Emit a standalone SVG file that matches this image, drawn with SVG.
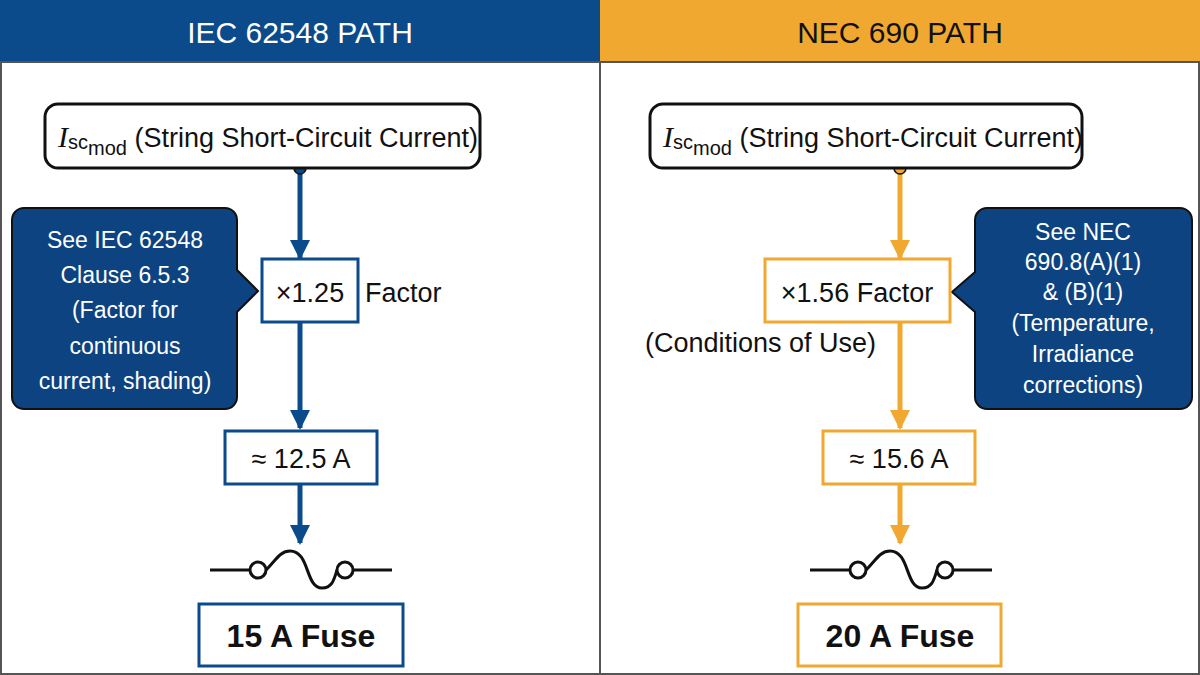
<svg xmlns="http://www.w3.org/2000/svg" width="1200" height="675" viewBox="0 0 1200 675">
<defs>
<style>
text{font-family:"Liberation Sans",Arial,sans-serif;fill:#111}
.h{font-size:30px;fill:#111}
.t{font-size:27px}
.c{font-size:23px;fill:#fff;text-anchor:middle}
.b{fill:#fff;stroke-width:3}
.bl{stroke:#0b4a8b}.or{stroke:#f0a830}
.f{fill:none;stroke:#111;stroke-width:3}
</style>
<marker id="ab" viewBox="0 0 10 10" refX="9" refY="5" markerWidth="4" markerHeight="4" markerUnits="strokeWidth" orient="auto"><path d="M0,0L10,5L0,10z" fill="#0b4a8b"/></marker>
<marker id="ao" viewBox="0 0 10 10" refX="9" refY="5" markerWidth="4" markerHeight="4" markerUnits="strokeWidth" orient="auto"><path d="M0,0L10,5L0,10z" fill="#f0a830"/></marker>
</defs>
<rect width="1200" height="675" fill="#fff"/>
<rect x="0" y="0" width="600" height="62" fill="#0b4a8b"/>
<rect x="600" y="0" width="600" height="62" fill="#f0a830"/>
<text x="300" y="43" class="h" text-anchor="middle" style="fill:#fff">IEC 62548 PATH</text>
<text x="900" y="43" class="h" text-anchor="middle">NEC 690 PATH</text>
<line x1="600" y1="62" x2="600" y2="675" stroke="#555" stroke-width="2"/>
<rect x="1" y="62" width="1198" height="612" fill="none" stroke="#555" stroke-width="2"/>

<g id="connectors">
<g stroke="#0b4a8b" stroke-width="5" marker-end="url(#ab)">
<line x1="300" y1="170" x2="300" y2="258"/>
<line x1="300" y1="322" x2="300" y2="428"/>
<line x1="300" y1="484" x2="300" y2="543"/>
</g>
<circle cx="300" cy="168" r="6" fill="#0b4a8b" stroke="#111" stroke-width="1.5"/>
<g stroke="#f0a830" stroke-width="5" marker-end="url(#ao)">
<line x1="900" y1="170" x2="900" y2="258"/>
<line x1="900" y1="322" x2="900" y2="428"/>
<line x1="900" y1="484" x2="900" y2="543"/>
</g>
<circle cx="900" cy="168" r="6" fill="#f0a830" stroke="#111" stroke-width="1.5"/>
</g>

<g id="isc-left"><rect x="45" y="104" width="435" height="64" rx="13" fill="#fff" stroke="#111" stroke-width="3"/>
<text x="58" y="147" class="t"><tspan font-family="Liberation Serif" font-style="italic" font-size="30">I</tspan><tspan font-size="20" dy="2">sc</tspan><tspan font-size="20" dy="6">mod</tspan><tspan dy="-8"> (String Short-Circuit Current)</tspan></text></g>
<g id="isc-right"><rect x="650" y="104" width="432" height="64" rx="13" fill="#fff" stroke="#111" stroke-width="3"/>
<text x="663" y="147" class="t"><tspan font-family="Liberation Serif" font-style="italic" font-size="30">I</tspan><tspan font-size="20" dy="2">sc</tspan><tspan font-size="20" dy="6">mod</tspan><tspan dy="-8"> (String Short-Circuit Current)</tspan></text></g>

<g id="callout-left"><path d="M24,208H225a12,12 0 0 1 12,12V270L258,291L237,312V397a12,12 0 0 1 -12,12H24a12,12 0 0 1 -12,-12V220a12,12 0 0 1 12,-12z" fill="#0d4381" stroke="#111" stroke-width="2"/>
<text class="c"><tspan x="125" y="248">See IEC 62548</tspan><tspan x="125" y="283">Clause 6.5.3</tspan><tspan x="125" y="318">(Factor for</tspan><tspan x="125" y="354">continuous</tspan><tspan x="125" y="389">current, shading)</tspan></text></g>

<g id="factor-left"><rect x="262" y="259" width="96" height="63" class="b bl"/><text x="310" y="302" class="t" text-anchor="middle">×1.25</text><text x="365" y="302" class="t" font-size="25">Factor</text></g>
<g id="amp-left"><rect x="225" y="431" width="152" height="53" class="b bl"/><text x="301" y="468" class="t" text-anchor="middle">≈ 12.5 A</text></g>
<g id="fuse-sym-left" class="f"><path d="M210,570H250M266,570C276,560 280,551 290,551C310,551 305,588 322,588C332,588 334,580 337,570M353,570H392"/><circle cx="258" cy="570" r="8" fill="#fff"/><circle cx="345" cy="570" r="8" fill="#fff"/></g>
<g id="fuse-left"><rect x="199" y="604" width="204" height="62" class="b bl"/><text x="301" y="647" font-size="32" font-weight="bold" text-anchor="middle">15 A Fuse</text></g>

<g id="callout-right"><path d="M987,208H1180a12,12 0 0 1 12,12V397a12,12 0 0 1 -12,12H987a12,12 0 0 1 -12,-12V312L952,292L975,272V220a12,12 0 0 1 12,-12z" fill="#0d4381" stroke="#111" stroke-width="2"/>
<text class="c"><tspan x="1083" y="240">See NEC</tspan><tspan x="1083" y="270">690.8(A)(1)</tspan><tspan x="1083" y="300">&amp; (B)(1)</tspan><tspan x="1083" y="331">(Temperature,</tspan><tspan x="1083" y="362">Irradiance</tspan><tspan x="1083" y="393">corrections)</tspan></text></g>

<g id="factor-right"><rect x="765" y="259" width="185" height="63" class="b or"/><text x="857" y="302" class="t" text-anchor="middle">×1.56 Factor</text></g>
<text x="645" y="352" class="t" font-size="25">(Conditions of Use)</text>
<g id="amp-right"><rect x="823" y="431" width="152" height="53" class="b or"/><text x="899" y="468" class="t" text-anchor="middle">≈ 15.6 A</text></g>
<g id="fuse-sym-right" class="f"><path d="M810,570H850M866,570C876,560 880,551 890,551C910,551 905,588 922,588C932,588 934,580 937,570M953,570H992"/><circle cx="858" cy="570" r="8" fill="#fff"/><circle cx="945" cy="570" r="8" fill="#fff"/></g>
<g id="fuse-right"><rect x="798" y="604" width="203" height="62" class="b or"/><text x="900" y="647" font-size="32" font-weight="bold" text-anchor="middle">20 A Fuse</text></g>
</svg>
